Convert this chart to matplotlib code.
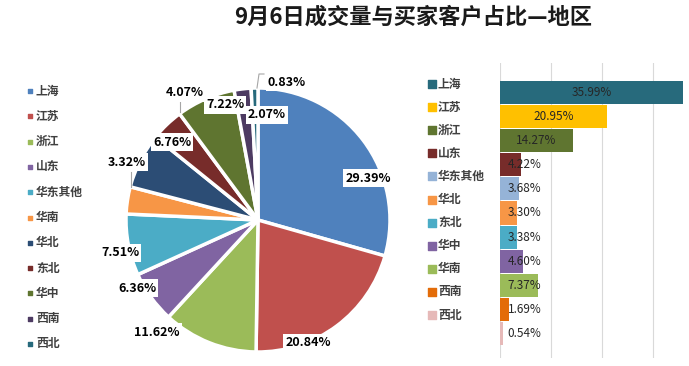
import matplotlib
matplotlib.use('Agg')
import matplotlib.pyplot as plt

plt.rcParams['font.family'] = ['Noto Sans CJK SC', 'DejaVu Sans']

# pie data (clockwise from 12 o'clock)
pie_names = ['上海', '江苏', '浙江', '山东', '华东其他', '华南', '华北', '东北', '华中', '西南', '西北']
pie_values = [29.39, 20.84, 11.62, 6.36, 7.51, 3.32, 6.76, 4.07, 7.22, 2.07, 0.83]
pie_colors = ['#4F81BD', '#C0504D', '#9BBB59', '#8064A2', '#4BACC6', '#F79646',
              '#2C4D75', '#772C2A', '#5F7530', '#4D3B62', '#276A7C']

# bar data (top to bottom)
bar_names = ['上海', '江苏', '浙江', '山东', '华东其他', '华北', '东北', '华中', '华南', '西南', '西北']
bar_values = [35.99, 20.95, 14.27, 4.22, 3.68, 3.30, 3.38, 4.60, 7.37, 1.69, 0.54]
bar_colors = ['#276A7C', '#FFC000', '#5F7530', '#772C2A', '#95B3D7', '#F79646',
              '#4BACC6', '#8064A2', '#9BBB59', '#E36C09', '#E6B9B8']

W, H = 689, 366
fig = plt.figure(figsize=(W / 100, H / 100), dpi=100)
fig.patch.set_facecolor('white')

# overlay axes in pixel units (y flipped with Y())
ax = fig.add_axes([0, 0, 1, 1])
Y = lambda y: H - y

ax.pie(pie_values, colors=pie_colors, startangle=90, counterclock=False,
       center=(258, Y(220)), radius=132,
       wedgeprops=dict(edgecolor='white', linewidth=2.5))
ax.set_xlim(0, W)
ax.set_ylim(0, H)
ax.axis('off')

# pie labels (Excel best-fit placement)
label_pos = [(368, 178), (308, 343), (157, 332), (137, 288), (120, 253), (127, 162),
             (172, 142), (185, 93), (225, 105), (267, 115), (287, 82)]
for v, (x, y) in zip(pie_values, label_pos):
    ax.text(x, Y(y), f'{v:.2f}%', ha='center', va='center', fontsize=9, fontweight='bold',
            bbox=dict(facecolor='white', edgecolor='none', pad=1.5))

# leader lines
ax.plot([131, 131], [Y(172), Y(187)], color='#A6A6A6', lw=0.8)
ax.plot([180, 180], [Y(102), Y(112)], color='#A6A6A6', lw=0.8)
ax.plot([264, 259, 257], [Y(74), Y(74), Y(88)], color='#A6A6A6', lw=0.8)

# pie legend
for i, (name, c) in enumerate(zip(pie_names, pie_colors)):
    yy = Y(91 + i * 25.3)
    ax.scatter([30], [yy], marker='s', s=10, color=c)
    ax.text(36, yy, name, ha='left', va='center', fontsize=8.5, fontweight='bold', color='#404040')

# bar legend
for i, (name, c) in enumerate(zip(bar_names, bar_colors)):
    yy = Y(84 + i * 23.1)
    ax.scatter([432], [yy], marker='s', s=30, color=c)
    ax.text(438, yy, name, ha='left', va='center', fontsize=8.5, fontweight='bold', color='#404040')

# title
ax.text(413, Y(17), '9月6日成交量与买家客户占比—地区', ha='center', va='center',
        fontsize=16, fontweight='bold', color='#1a1a1a')

# bar chart
bx = fig.add_axes([500 / W, (H - 358) / H, (W - 500) / W, (358 - 63) / H])
ypos = list(range(len(bar_values)))
bx.barh(ypos, bar_values, height=0.96, color=bar_colors)
bx.set_xlim(0, 37.1)
bx.set_ylim(11.017, -1.224)
bx.set_xticks([0, 10, 20, 30])
bx.grid(axis='x', color='#D9D9D9', lw=0.8)
bx.set_axisbelow(True)
bx.tick_params(length=0, labelbottom=False, labelleft=False)
for s in bx.spines.values():
    s.set_visible(False)
for y, v in zip(ypos, bar_values):
    bx.text(max(v / 2, 4.83), y, f'{v:.2f}%', ha='center', va='center', fontsize=8.5, color='#262626')

fig.savefig('out.png', dpi=100)
